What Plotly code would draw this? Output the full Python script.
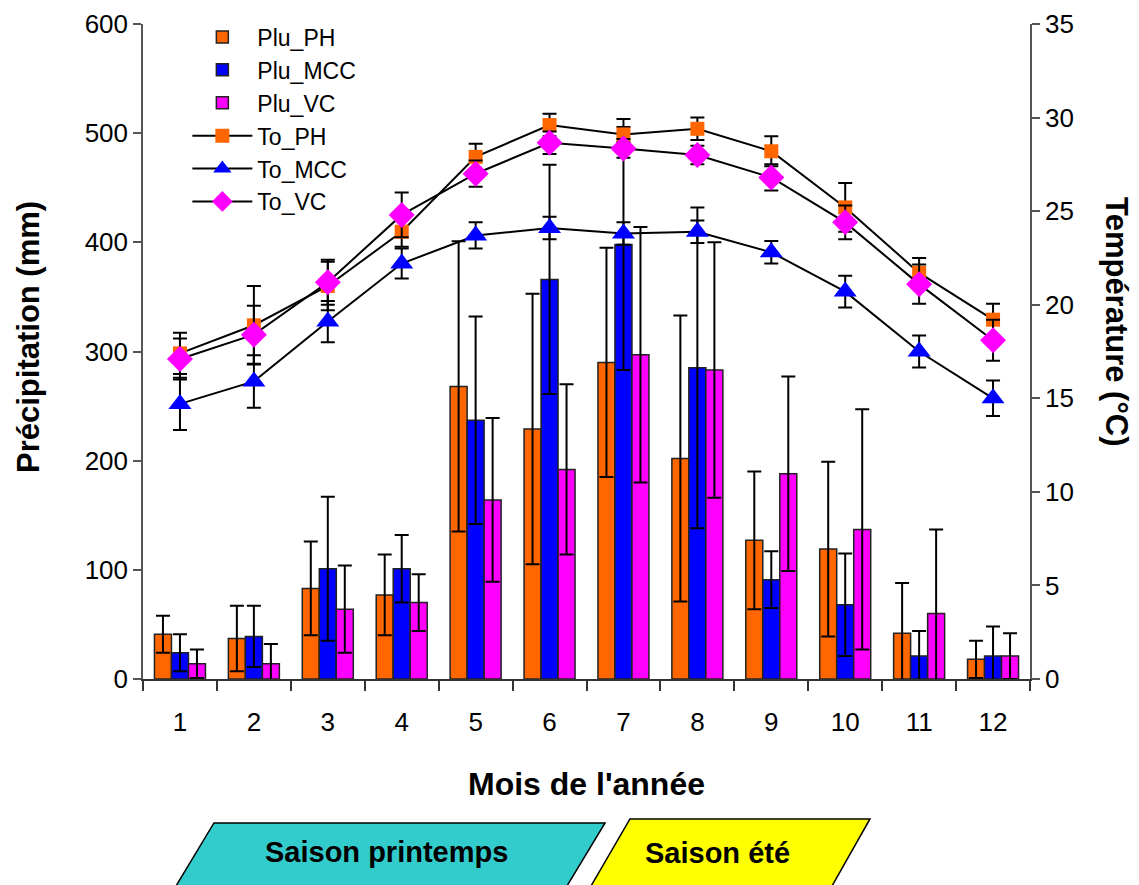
import plotly.graph_objects as go

# Monthly precipitation (mm) and temperature (°C) for the three sites
months = [1, 2, 3, 4, 5, 6, 7, 8, 9, 10, 11, 12]

plu_ph = [41, 37, 83, 77, 268, 229, 290, 202, 127, 119, 42, 18]
plu_ph_err = [17, 30, 43, 37, 133, 124, 105, 131, 63, 80, 46, 17]
plu_mcc = [24, 39, 101, 101, 237, 366, 398, 285, 91, 68, 21, 21]
plu_mcc_err = [17, 28, 66, 31, 95, 105, 115, 147, 26, 47, 23, 27]
plu_vc = [14, 14, 64, 70, 164, 192, 297, 283, 188, 137, 60, 21]
plu_vc_err = [13, 18, 40, 26, 75, 78, 117, 117, 89, 110, 77, 21]

to_ph = [17.4, 18.9, 21.0, 23.9, 27.9, 29.6, 29.1, 29.4, 28.2, 25.2, 21.7, 19.2]
to_ph_err = [1.1, 2.1, 1.3, 0.8, 0.7, 0.6, 0.4, 0.6, 0.8, 1.3, 0.8, 0.85]
to_mcc = [14.7, 15.9, 19.1, 22.2, 23.7, 24.1, 23.8, 23.9, 22.8, 20.7, 17.5, 15.0]
to_mcc_err = [1.4, 1.4, 1.1, 0.8, 0.7, 0.6, 0.6, 0.6, 0.6, 0.85, 0.85, 0.95]
to_vc = [17.1, 18.4, 21.2, 24.8, 27.0, 28.65, 28.35, 28.0, 26.8, 24.4, 21.1, 18.1]
to_vc_err = [1.1, 1.55, 1.2, 1.2, 0.7, 0.6, 0.5, 0.5, 0.7, 0.9, 1.05, 1.1]

season_labels = ["Saison printemps", "Saison été"]

FONT = "Arial, Liberation Sans, sans-serif"
ORANGE = "#FF6600"
BLUE = "#0000FF"
MAGENTA = "#FF00FF"

fig = go.Figure()

def add_bar(name, values, errs, color):
    fig.add_trace(go.Bar(
        x=months, y=values, name=name,
        marker=dict(color=color, line=dict(color="#222222", width=1.5)),
        error_y=dict(type="data", array=errs, visible=True,
                     color="black", thickness=2, width=7),
        yaxis="y",
    ))

def add_line(name, values, errs, color, symbol, size):
    fig.add_trace(go.Scatter(
        x=months, y=values, name=name, mode="lines+markers",
        line=dict(color="black", width=2),
        marker=dict(color=color, symbol=symbol, size=size),
        error_y=dict(type="data", array=errs, visible=True,
                     color="black", thickness=2, width=7),
        yaxis="y2",
    ))

add_bar("Plu_PH", plu_ph, plu_ph_err, ORANGE)
add_bar("Plu_MCC", plu_mcc, plu_mcc_err, BLUE)
add_bar("Plu_VC", plu_vc, plu_vc_err, MAGENTA)
add_line("To_PH", to_ph, to_ph_err, ORANGE, "square", 14)
add_line("To_MCC", to_mcc, to_mcc_err, BLUE, "triangle-up", 20)
add_line("To_VC", to_vc, to_vc_err, MAGENTA, "diamond", 20)

# Season banners below the month axis (paper coordinates)
W0, W = 143.0, 887.0
H0, H = 679.0, 655.0

def px(x):
    return (x - W0) / W

def py(y):
    return (H0 - y) / H

def band(pts, color):
    path = "M " + " L ".join(f"{px(x):.4f},{py(y):.4f}" for x, y in pts) + " Z"
    fig.add_shape(type="path", path=path, xref="paper", yref="paper",
                  fillcolor=color, line=dict(color="black", width=1.5),
                  layer="above")

band([(176, 886), (214, 823), (605, 823), (567, 886)], "#33CCCC")
band([(591, 886), (630, 819), (870, 819), (832, 886)], "#FFFF00")

annotations = [
    dict(text="<b>" + season_labels[0] + "</b>", x=px(386), y=py(852), size=29),
    dict(text="<b>" + season_labels[1] + "</b>", x=px(717), y=py(853), size=29),
    dict(text="<b>Mois de l'année</b>", x=px(586), y=py(784), size=32),
    dict(text="<b>Précipitation (mm)</b>", x=px(28), y=py(337), size=31, textangle=-90),
    dict(text="<b>Température (°C)</b>", x=px(1117), y=py(322), size=31, textangle=90),
]
for a in annotations:
    size = a.pop("size")
    fig.add_annotation(xref="paper", yref="paper", showarrow=False,
                       xanchor="center", yanchor="middle",
                       font=dict(family=FONT, size=size, color="black"),
                       **a)

axis_common = dict(showgrid=False, zeroline=False, automargin=False,
                   tickfont=dict(size=26), tickwidth=1.5)

fig.update_layout(
    width=1139, height=885,
    margin=dict(l=143, r=109, t=24, b=206),
    paper_bgcolor="white", plot_bgcolor="white",
    barmode="group", bargap=0.31, bargroupgap=0,
    font=dict(family=FONT, color="black"),
    showlegend=True,
    legend=dict(x=0.05, y=1.013, xanchor="left", yanchor="top",
                bgcolor="rgba(0,0,0,0)", font=dict(size=23, family=FONT),
                itemwidth=60, traceorder="normal"),
    xaxis=dict(type="category", range=[-0.5, len(months) - 0.5],
               tickson="boundaries", ticks="outside",
               ticklen=10, tickcolor="#333", showline=True,
               linecolor="#333", linewidth=1.5, ticklabelstandoff=19,
               **axis_common),
    yaxis=dict(range=[0, 600], dtick=100, ticks="outside", ticklen=8,
               tickcolor="#555", showline=True, linecolor="#555",
               linewidth=1.5, **axis_common),
    yaxis2=dict(range=[0, 35], dtick=5, overlaying="y", side="right",
                ticks="outside", ticklen=8, tickcolor="#555",
                showline=True, linecolor="#555", linewidth=1.5,
                **axis_common),
)

fig.write_html("out.html")
